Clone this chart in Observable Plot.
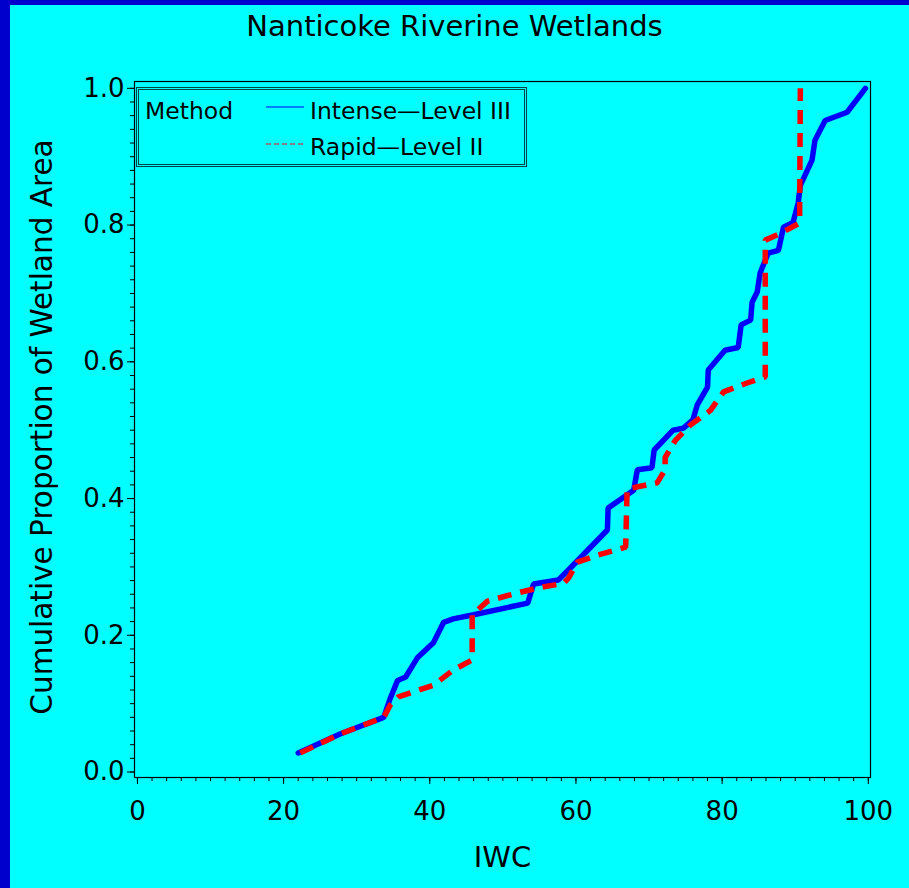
<!DOCTYPE html>
<html>
<head>
<meta charset="utf-8">
<script src="https://cdn.jsdelivr.net/npm/d3@7"></script>
<script src="https://cdn.jsdelivr.net/npm/@observablehq/plot@0.6"></script>
<style>
  html, body { margin: 0; padding: 0; }
  body { width: 909px; height: 888px; background: #00ffff; position: relative; overflow: hidden;
         font-family: "DejaVu Sans", sans-serif; color: #000; }
  #bt { position: absolute; left: 0; top: 0; width: 909px; height: 5px; background: #0000cc; }
  #bl { position: absolute; left: 0; top: 0; width: 10px; height: 888px; background: #0000cc; }
  #chart { position: absolute; left: 0; top: 0; }
  .title { position: absolute; left: 0; width: 909px; top: 9px; text-align: center; font-size: 29px; line-height: 34px; }
  .xlab { position: absolute; left: 135px; width: 735px; top: 840px; text-align: center; font-size: 29px; line-height: 34px; }
  .ylab { position: absolute; left: 42px; top: 427px; font-size: 29.5px; white-space: nowrap;
          transform: translate(-50%, -50%) rotate(-90deg); }
  .legend { position: absolute; left: 136px; top: 87px; width: 385px; height: 74px;
            border: 3px double #004646; font-size: 23.5px; line-height: 28px; }
  .legend span { position: absolute; white-space: nowrap; }
  .legend svg { position: absolute; }
</style>
</head>
<body>
<div id="chart"></div>
<div id="bt"></div><div id="bl"></div>
<div class="title">Nanticoke Riverine Wetlands</div>
<div class="ylab">Cumulative Proportion of Wetland Area</div>
<div class="xlab">IWC</div>
<div class="legend">
  <span style="left:6px; top:7px;">Method</span>
  <svg style="left:127px; top:15px;" width="40" height="4"><line x1="0" y1="2" x2="38" y2="2" stroke="#0000ff" stroke-width="1.2"/></svg>
  <span style="left:171px; top:7px;">Intense—Level III</span>
  <svg style="left:127px; top:52px;" width="40" height="4"><line x1="0" y1="2" x2="38" y2="2" stroke="#ff0000" stroke-width="1.2" stroke-dasharray="5,3"/></svg>
  <span style="left:171px; top:43px;">Rapid—Level II</span>
</div>
<script>
const intenseIWC  = [22.0, 27.8, 30.5, 33.7, 34.6, 35.6, 36.7, 38.3, 40.5, 41.9, 43.2, 46.0, 53.4, 54.2, 57.6, 59.2, 64.3, 64.4, 67.9, 68.4, 70.4, 70.7, 73.3, 74.7, 76.0, 76.6, 78.0, 78.1, 80.4, 82.2, 82.6, 83.9, 84.1, 84.8, 85.2, 85.5, 86.3, 87.7, 88.4, 89.7, 90.4, 90.7, 92.3, 92.7, 94.1, 97.1, 99.6];
const intenseProp = [0.028, 0.056, 0.067, 0.080, 0.108, 0.134, 0.139, 0.167, 0.189, 0.219, 0.224, 0.230, 0.247, 0.275, 0.281, 0.298, 0.354, 0.386, 0.412, 0.442, 0.445, 0.471, 0.500, 0.503, 0.515, 0.537, 0.563, 0.588, 0.617, 0.621, 0.654, 0.661, 0.687, 0.702, 0.730, 0.738, 0.759, 0.763, 0.797, 0.804, 0.832, 0.858, 0.895, 0.924, 0.953, 0.965, 1.0];
const rapidIWC  = [22.3, 27.8, 30.5, 33.7, 34.6, 35.7, 40.5, 43.2, 45.8, 45.8, 47.9, 52.0, 55.1, 58.3, 59.0, 60.2, 62.9, 66.8, 67.0, 71.1, 72.2, 72.2, 73.6, 75.6, 78.4, 80.2, 83.4, 85.9, 85.9, 88.0, 90.6, 90.7];
const rapidProp = [0.028, 0.056, 0.067, 0.080, 0.098, 0.110, 0.127, 0.149, 0.164, 0.230, 0.250, 0.262, 0.270, 0.276, 0.284, 0.307, 0.317, 0.329, 0.414, 0.423, 0.442, 0.460, 0.485, 0.507, 0.529, 0.556, 0.569, 0.578, 0.778, 0.788, 0.803, 1.0];
const xMajor = [0, 20, 40, 60, 80, 100];
const xMinor = d3.range(0, 101, 2);
const yMajor = [0, 0.2, 0.4, 0.6, 0.8, 1.0];
const yMinor = d3.range(0, 51).map(i => i / 50);

const intense = intenseIWC.map((x, i) => ({x, y: intenseProp[i]}));
const rapid = rapidIWC.map((x, i) => ({x, y: rapidProp[i]}));

const chart = Plot.plot({
  width: 909,
  height: 888,
  marginLeft: 134,
  marginRight: 39,
  marginTop: 81,
  marginBottom: 111,
  style: {background: "transparent", fontFamily: "DejaVu Sans, sans-serif", color: "#000"},
  x: {domain: [-0.4, 100.3]},
  y: {domain: [-0.008, 1.01]},
  marks: [
    Plot.axisX(xMinor, {tickSize: 4, tickFormat: () => "", label: null}),
    Plot.axisX(xMajor, {tickSize: 7, tickPadding: 17, fontSize: 26, tickFormat: d => String(d), label: null}),
    Plot.axisY(yMinor, {tickSize: 4, tickFormat: () => "", label: null}),
    Plot.axisY(yMajor, {tickSize: 7, tickPadding: 3, fontSize: 26, tickFormat: d3.format(".1f"), label: null}),
    Plot.frame({stroke: "#000", strokeWidth: 1.2}),
    Plot.line(intense, {x: "x", y: "y", stroke: "#0000ff", strokeWidth: 5.5, strokeLinejoin: "miter"}),
    Plot.line(rapid, {x: "x", y: "y", stroke: "#ff0000", strokeWidth: 5.5, strokeDasharray: "14,9", strokeLinecap: "butt", strokeLinejoin: "miter"})
  ]
});
document.getElementById("chart").appendChild(chart);
</script>
</body>
</html>
